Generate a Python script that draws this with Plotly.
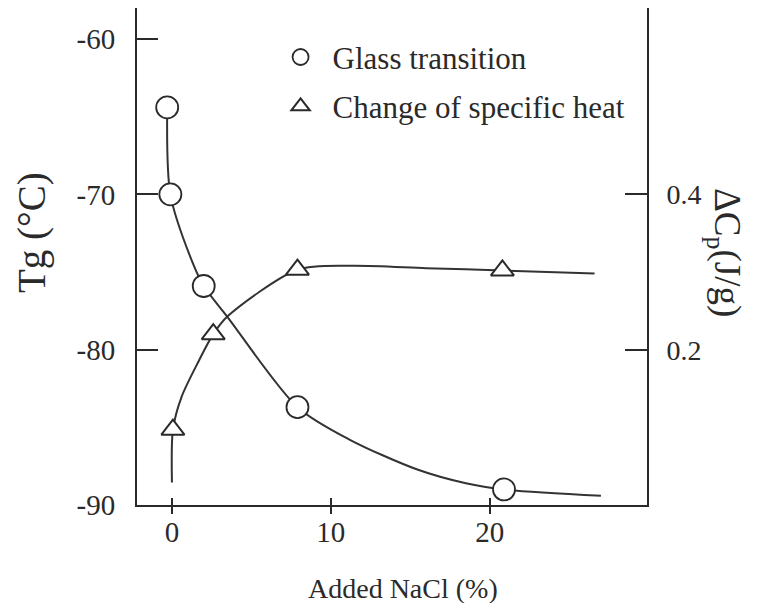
import plotly.graph_objects as go

# ---- data ----
nacl_tg = [-0.3, -0.1, 2.0, 7.9, 20.9]            # Added NaCl (%) for glass transition points
tg_vals = [-64.4, -70.0, -75.9, -83.7, -89.0]      # Tg (°C)

nacl_cp = [0.06, 2.6, 7.9, 20.8]                   # Added NaCl (%) for specific heat points
cp_vals = [0.097, 0.220, 0.303, 0.302]             # ΔCp (J/g)

# hand-drawn smooth curves
tg_curve_x = [-0.3, -0.1, 1.3, 2.0, 3.5, 7.9, 11.2, 15.4, 18.5, 20.9, 27.0]
tg_curve_y = [-64.4, -70.0, -74.4, -75.9, -77.9, -83.7, -85.8, -87.7, -88.6, -89.0, -89.4]

cp_curve_x = [0.0, 0.06, 0.6, 1.6, 2.6, 3.5, 7.9, 11.3, 16.0, 20.8, 26.6]
cp_curve_y = [0.029, 0.097, 0.139, 0.182, 0.220, 0.243, 0.303, 0.308, 0.305, 0.302, 0.298]

x_ticks = [0, 10, 20]
x_ticktext = ["0", "10", "20"]
tg_ticks = [-60, -70, -80, -90]
tg_ticktext = ["-60", "-70", "-80", "-90"]
cp_ticks = [0.2, 0.4]
cp_ticktext = ["0.2", "0.4"]

x_range = [-2.2, 29.9]
tg_range = [-90.0, -58.0]
cp_range = [(tg_range[0] + 90) * 0.02, (tg_range[1] + 90) * 0.02]

FONT = "Liberation Serif"
INK = "#2a2a2a"
LINE = "#333333"

fig = go.Figure()

fig.add_trace(go.Scatter(x=tg_curve_x, y=tg_curve_y, mode="lines",
                         line=dict(color=LINE, width=2, shape="spline", smoothing=0.8),
                         showlegend=False, hoverinfo="skip"))
fig.add_trace(go.Scatter(x=cp_curve_x, y=cp_curve_y, mode="lines", yaxis="y2",
                         line=dict(color=LINE, width=2, shape="spline", smoothing=0.8),
                         showlegend=False, hoverinfo="skip"))
fig.add_trace(go.Scatter(x=nacl_tg, y=tg_vals, mode="markers", name="Glass transition",
                         legendgroup="a",
                         marker=dict(symbol="circle", size=22, color="white",
                                     line=dict(color=INK, width=1.8))))
fig.add_trace(go.Scatter(x=nacl_cp, y=cp_vals, mode="markers", yaxis="y2",
                         name="Change of specific heat", legendgroup="b",
                         marker=dict(symbol="triangle-up", size=20, color="white",
                                     line=dict(color=INK, width=2))))
# empty trace so the overlay x axis (outer half of the cross ticks) is drawn
fig.add_trace(go.Scatter(x=[], y=[], xaxis="x2", showlegend=False, hoverinfo="skip"))

fig.update_layout(
    width=761, height=603,
    margin=dict(l=137, r=114, t=8, b=98),
    paper_bgcolor="white", plot_bgcolor="white",
    font=dict(family=FONT, color=INK),
    xaxis=dict(range=x_range, tickvals=x_ticks, ticktext=x_ticktext,
               showline=True, linecolor=INK, linewidth=2, showgrid=False, zeroline=False,
               ticks="inside", ticklen=7, tickwidth=2, tickcolor=INK,
               tickfont=dict(family=FONT, size=29, color=INK), ticklabelstandoff=0),
    xaxis2=dict(range=x_range, overlaying="x", anchor="y", side="bottom",
                tickvals=x_ticks, showticklabels=False, showline=False,
                showgrid=False, zeroline=False,
                ticks="outside", ticklen=8, tickwidth=2, tickcolor=INK),
    yaxis=dict(range=tg_range, tickvals=tg_ticks, ticktext=tg_ticktext,
               showline=True, linecolor=INK, linewidth=2, showgrid=False, zeroline=False,
               ticks="inside", ticklen=21, tickwidth=2, tickcolor=INK,
               tickfont=dict(family=FONT, size=29, color=INK), ticklabelstandoff=14),
    yaxis2=dict(range=cp_range, tickvals=cp_ticks, ticktext=cp_ticktext,
                overlaying="y", side="right", anchor="x",
                showline=True, linecolor=INK, linewidth=2, showgrid=False, zeroline=False,
                ticks="inside", ticklen=22, tickwidth=2, tickcolor=INK,
                tickfont=dict(family=FONT, size=28, color=INK), ticklabelstandoff=12),
    legend=dict(x=0.258, y=0.955, xanchor="left", yanchor="top",
                font=dict(family=FONT, size=31, color=INK),
                bgcolor="rgba(0,0,0,0)", traceorder="grouped", tracegroupgap=6,
                itemsizing="trace", itemwidth=54),
    showlegend=True,
    annotations=[
        dict(text="Added NaCl (%)", xref="paper", yref="paper",
             x=(403 - 137) / 510, y=-(588 - 505) / 497, xanchor="center", yanchor="middle",
             showarrow=False, font=dict(family=FONT, size=28, color=INK)),
        dict(text="Tg (°C)", xref="paper", yref="paper", textangle=-90,
             x=(32 - 137) / 510, y=(505 - 233) / 497, xanchor="center", yanchor="middle",
             showarrow=False, font=dict(family=FONT, size=39, color=INK)),
        dict(text="ΔC<sub>p</sub>(J/g)", xref="paper", yref="paper", textangle=90,
             x=(725 - 137) / 510, y=(505 - 252) / 497, xanchor="center", yanchor="middle",
             showarrow=False, font=dict(family=FONT, size=37, color=INK)),
    ],
)

fig.write_html("out.html")
